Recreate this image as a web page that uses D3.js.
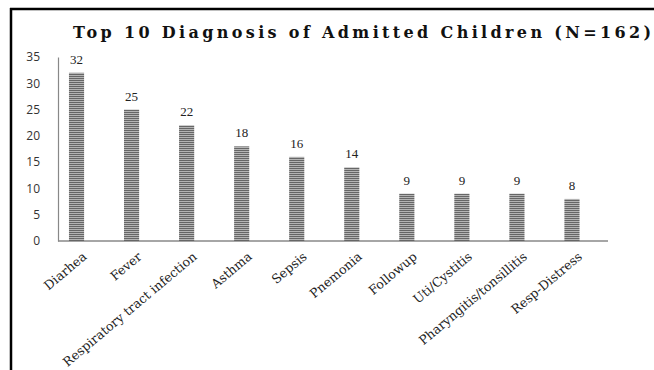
<!DOCTYPE html>
<html><head><meta charset="utf-8">
<script src="https://cdn.jsdelivr.net/npm/d3@7"></script>
<style>body{margin:0;background:#fff;}svg{display:block;}</style>
</head><body>
<script>
const categories = ["Diarhea","Fever","Respiratory tract infection","Asthma","Sepsis","Pnemonia","Followup","Uti/Cystitis","Pharyngitis/tonsillitis","Resp-Distress"];
const values = [32,25,22,18,16,14,9,9,9,8];
const yTicks = [0,5,10,15,20,25,30,35];
const title = "Top 10 Diagnosis of Admitted Children (N=162)";

const W = 654, H = 370;
const svg = d3.select("body").append("svg").attr("width", W).attr("height", H);

const defs = svg.append("defs");
const pat = defs.append("pattern").attr("id","stripes").attr("patternUnits","userSpaceOnUse")
  .attr("width", 4).attr("height", 2);
pat.append("rect").attr("width",4).attr("height",2).attr("fill","#b4b4b4");
pat.append("rect").attr("width",4).attr("height",1).attr("fill","#666");

// frame (top and left)
svg.append("line").attr("x1",10).attr("x2",W).attr("y1",9).attr("y2",9).attr("stroke","#000").attr("stroke-width",2.5);
svg.append("line").attr("x1",11).attr("x2",11).attr("y1",8).attr("y2",H).attr("stroke","#000").attr("stroke-width",2.5);

const x = d3.scaleBand().domain(categories).range([49, 599.5]).paddingInner(0.725).paddingOuter(0.3625);
const y = d3.scaleLinear().domain([0,35]).range([241, 57]);

// y axis
const yAxis = svg.append("g").attr("transform","translate(58,0)")
  .call(d3.axisLeft(y).tickValues(yTicks).tickSize(0).tickPadding(18));
yAxis.select(".domain").attr("stroke","#888").attr("stroke-width",1.2);
yAxis.selectAll("text").attr("font-family","'Open Sans', sans-serif").attr("font-size",12).attr("fill","#333");

// x axis line
svg.append("line").attr("x1",58).attr("x2",608).attr("y1",y(0)).attr("y2",y(0)).attr("stroke","#888").attr("stroke-width",1.5);

// bars
svg.append("g").selectAll("rect").data(values).join("rect")
  .attr("x",(d,i)=>x(categories[i]))
  .attr("width",x.bandwidth())
  .attr("y",d=>y(d))
  .attr("height",d=>y(0)-y(d))
  .attr("fill","url(#stripes)");

// data labels
svg.append("g").selectAll("text").data(values).join("text")
  .attr("x",(d,i)=>x(categories[i])+x.bandwidth()/2)
  .attr("y",d=>y(d)-9)
  .attr("text-anchor","middle")
  .attr("font-family","'Liberation Serif', serif")
  .attr("font-size",13).attr("fill","#222")
  .text(d=>d);

// category labels
const catG = svg.append("g");
const cats = catG.selectAll("text").data(categories).join("text")
  .attr("transform",d=>`translate(${x(d)+x.bandwidth()/2+11},${y(0)+17}) rotate(-40)`)
  .attr("text-anchor","end")
  .attr("font-family","'DejaVu Serif', serif")
  .attr("font-size",12).attr("fill","#222")
  .text(d=>d);
const refW = cats.filter((d,i)=>i===2).node().getComputedTextLength();
cats.attr("font-size", 12*170/refW);

// title
const t = svg.append("text").attr("x",73).attr("y",38)
  .attr("font-family","'DejaVu Serif', serif").attr("font-weight","bold")
  .attr("font-size",16).attr("fill","#111").text(title);
const base = t.node().getComputedTextLength();
const ls = (578 - base) / (title.length - 1);
t.attr("letter-spacing", ls);
</script>
</body></html>
